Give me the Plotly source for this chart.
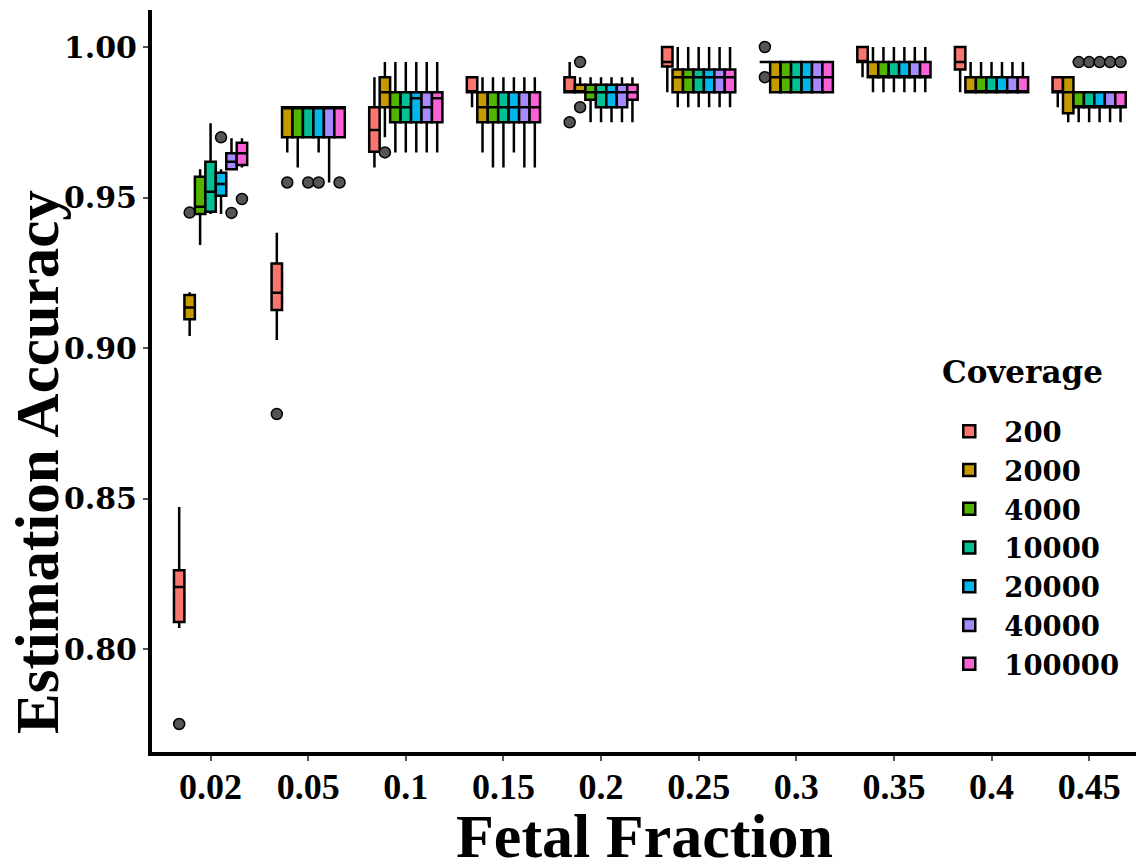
import plotly.graph_objects as go

fetal_fraction = ["0.02", "0.05", "0.1", "0.15", "0.2", "0.25", "0.3", "0.35", "0.4", "0.45"]
coverage = ["200", "2000", "4000", "10000", "20000", "40000", "100000"]
colors = ["#F8766D", "#C49A00", "#53B400", "#00C094", "#00B6EB", "#A58AFF", "#FB61D7"]

# ---- box statistics per coverage (one value per fetal fraction) ----
q1_200 = [0.809, 0.9126, 0.9652, 0.985, 0.985, 0.9935, 0.995, 0.995, 0.9925, 0.985]
med_200 = [0.8206, 0.9184, 0.9724, 0.985, 0.985, 0.995, 0.995, 0.995, 0.995, 0.985]
q3_200 = [0.8262, 0.9281, 0.98, 0.99, 0.99, 1.0, 0.995, 1.0, 1.0, 0.99]
lo_200 = [0.807, 0.9027, 0.96, 0.98, 0.985, 0.985, 0.995, 0.99, 0.985, 0.98]
hi_200 = [0.8472, 0.9383, 0.99, 0.99, 0.995, 1.0, 0.995, 1.0, 1.0, 0.99]
out_200 = [[0.7751], [0.8781], [], [], [0.975], [], [1.0, 0.99], [], [], []]

q1_2000 = [0.9096, 0.97, 0.98, 0.975, 0.985, 0.985, 0.985, 0.99, 0.985, 0.978]
med_2000 = [0.9135, 0.98, 0.985, 0.98, 0.985, 0.99, 0.99, 0.99, 0.985, 0.985]
q3_2000 = [0.9176, 0.98, 0.99, 0.985, 0.9875, 0.9925, 0.995, 0.995, 0.99, 0.99]
lo_2000 = [0.904, 0.965, 0.97, 0.965, 0.985, 0.98, 0.985, 0.985, 0.985, 0.975]
hi_2000 = [0.9185, 0.98, 0.995, 0.99, 0.99, 1.0, 0.995, 1.0, 0.995, 0.99]
out_2000 = [[0.945], [0.955], [0.965], [], [0.995, 0.98], [], [], [], [], []]

q1_4000 = [0.9445, 0.97, 0.975, 0.975, 0.9825, 0.985, 0.985, 0.99, 0.985, 0.98]
med_4000 = [0.9469, 0.98, 0.98, 0.98, 0.985, 0.99, 0.99, 0.99, 0.985, 0.98]
q3_4000 = [0.9569, 0.98, 0.985, 0.985, 0.9875, 0.9925, 0.995, 0.995, 0.99, 0.985]
lo_4000 = [0.9342, 0.96, 0.965, 0.96, 0.975, 0.98, 0.985, 0.985, 0.985, 0.975]
hi_4000 = [0.9594, 0.98, 0.995, 0.99, 0.99, 1.0, 0.995, 1.0, 0.995, 0.985]
out_4000 = [[], [], [], [], [], [], [], [], [], [0.995]]

q1_10000 = [0.9453, 0.97, 0.975, 0.975, 0.98, 0.985, 0.985, 0.99, 0.985, 0.98]
med_10000 = [0.9519, 0.98, 0.98, 0.98, 0.985, 0.99, 0.99, 0.99, 0.985, 0.98]
q3_10000 = [0.9619, 0.98, 0.985, 0.985, 0.9875, 0.9925, 0.995, 0.995, 0.99, 0.985]
lo_10000 = [0.9445, 0.97, 0.965, 0.96, 0.975, 0.98, 0.985, 0.985, 0.985, 0.975]
hi_10000 = [0.9747, 0.98, 0.995, 0.99, 0.99, 1.0, 0.995, 1.0, 0.995, 0.985]
out_10000 = [[], [0.955], [], [], [], [], [], [], [], [0.995]]

q1_20000 = [0.9506, 0.97, 0.975, 0.975, 0.98, 0.985, 0.985, 0.99, 0.985, 0.98]
med_20000 = [0.9545, 0.98, 0.983, 0.98, 0.985, 0.99, 0.99, 0.99, 0.985, 0.98]
q3_20000 = [0.9582, 0.98, 0.985, 0.985, 0.9875, 0.9925, 0.995, 0.995, 0.99, 0.985]
lo_20000 = [0.9445, 0.965, 0.965, 0.965, 0.975, 0.98, 0.985, 0.985, 0.985, 0.975]
hi_20000 = [0.9594, 0.98, 0.995, 0.99, 0.99, 1.0, 0.995, 1.0, 0.995, 0.985]
out_20000 = [[0.97], [0.955], [], [], [], [], [], [], [], [0.995]]

q1_40000 = [0.9594, 0.97, 0.975, 0.975, 0.98, 0.985, 0.985, 0.99, 0.985, 0.98]
med_40000 = [0.9619, 0.98, 0.98, 0.98, 0.985, 0.99, 0.99, 0.99, 0.985, 0.98]
q3_40000 = [0.9647, 0.98, 0.985, 0.985, 0.9875, 0.9925, 0.995, 0.995, 0.99, 0.985]
lo_40000 = [0.9592, 0.955, 0.965, 0.96, 0.975, 0.98, 0.985, 0.985, 0.985, 0.975]
hi_40000 = [0.9697, 0.98, 0.995, 0.99, 0.99, 1.0, 0.995, 1.0, 0.995, 0.985]
out_40000 = [[0.9449], [], [], [], [], [], [], [], [], [0.995]]

q1_100000 = [0.9608, 0.97, 0.975, 0.975, 0.9825, 0.985, 0.985, 0.99, 0.985, 0.98]
med_100000 = [0.9647, 0.98, 0.983, 0.98, 0.985, 0.99, 0.99, 0.99, 0.985, 0.98]
q3_100000 = [0.9682, 0.98, 0.985, 0.985, 0.9875, 0.9925, 0.995, 0.995, 0.99, 0.985]
lo_100000 = [0.96, 0.97, 0.965, 0.96, 0.975, 0.98, 0.985, 0.985, 0.985, 0.975]
hi_100000 = [0.9697, 0.98, 0.995, 0.99, 0.99, 1.0, 0.995, 1.0, 0.995, 0.985]
out_100000 = [[0.9495], [0.955], [], [], [], [], [], [], [], [0.995]]

y_ticks = [0.80, 0.85, 0.90, 0.95, 1.00]

stats = [
    (q1_200, med_200, q3_200, lo_200, hi_200, out_200),
    (q1_2000, med_2000, q3_2000, lo_2000, hi_2000, out_2000),
    (q1_4000, med_4000, q3_4000, lo_4000, hi_4000, out_4000),
    (q1_10000, med_10000, q3_10000, lo_10000, hi_10000, out_10000),
    (q1_20000, med_20000, q3_20000, lo_20000, hi_20000, out_20000),
    (q1_40000, med_40000, q3_40000, lo_40000, hi_40000, out_40000),
    (q1_100000, med_100000, q3_100000, lo_100000, hi_100000, out_100000),
]

fig = go.Figure()
for name, col, (q1, med, q3, lo, hi, out) in zip(coverage, colors, stats):
    # sample per box: its outliers (or just the median when there are none)
    samples = [o if o else [m] for o, m in zip(out, med)]
    fig.add_trace(go.Box(
        name=name,
        x=fetal_fraction,
        y=samples,
        q1=q1, median=med, q3=q3, lowerfence=lo, upperfence=hi,
        boxpoints="outliers",
        jitter=0, pointpos=0,
        fillcolor=col,
        line=dict(color="black", width=2.5),
        whiskerwidth=0,
        marker=dict(color="#555555", size=11, line=dict(color="black", width=1.5)),
    ))

serif = "Liberation Serif"
fig.update_layout(
    width=1136, height=865,
    margin=dict(l=152, r=0, t=10, b=113),
    paper_bgcolor="white", plot_bgcolor="white",
    boxmode="group", boxgap=0.25, boxgroupgap=0,
    xaxis=dict(
        type="category", range=[-0.6, 9.48], automargin=False,
        showline=True, linecolor="black", linewidth=4,
        ticks="outside", ticklen=5, tickwidth=2, tickcolor="#555555",
        ticklabelstandoff=-5,
        showgrid=False, zeroline=False,
        tickfont=dict(family=serif, size=36, color="black", weight="bold"),
    ),
    yaxis=dict(
        range=[0.7658, 1.0123], automargin=False,
        tickvals=y_ticks, tickformat=".2f",
        showline=True, linecolor="black", linewidth=4,
        ticks="outside", ticklen=5, tickwidth=2, tickcolor="#555555",
        showgrid=False, zeroline=False,
        tickfont=dict(family="DejaVu Serif", size=30, color="black", weight="bold"),
    ),
    legend=dict(
        x=0.795, y=0.465, xanchor="left", yanchor="top",
        bgcolor="rgba(0,0,0,0)",
        font=dict(family="DejaVu Serif", size=27.5, color="black", weight="bold"),
        tracegroupgap=0, itemwidth=60,
    ),
    annotations=[
        dict(text="<b>Coverage</b>", xref="paper", yref="paper",
             x=0.8008, y=0.512, xanchor="left", yanchor="middle", showarrow=False,
             font=dict(family="DejaVu Serif", size=31, color="black")),
        dict(text="<b>Fetal Fraction</b>", xref="paper", yref="paper",
             x=0.5, y=-0.113, xanchor="center", yanchor="middle", showarrow=False,
             font=dict(family=serif, size=62, color="black")),
        dict(text="<b>Estimation Accuracy</b>", xref="paper", yref="paper",
             x=-0.1169, y=0.3908, xanchor="center", yanchor="middle", showarrow=False,
             textangle=-90, font=dict(family=serif, size=61, color="black")),
    ],
)

fig.write_html("out.html", config={"displayModeBar": False},
               post_script="document.body.style.margin='0';")
